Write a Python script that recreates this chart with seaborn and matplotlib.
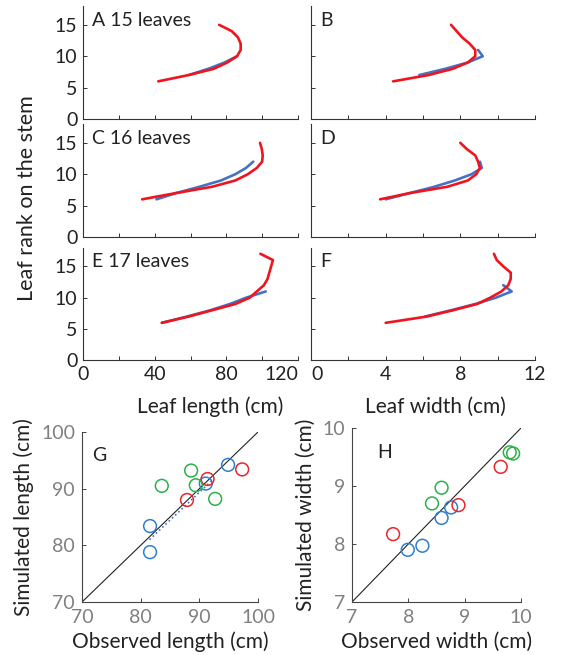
import numpy as np
import pandas as pd
import matplotlib
matplotlib.use("Agg")
import matplotlib.pyplot as plt
import seaborn as sns

sns.set_theme(style="ticks")
plt.rcParams["font.family"] = ["Lato", "DejaVu Sans"]

# ---- data: leaf profiles (x value per leaf rank) ----
# panel A / B : 15 leaves
len15_obs_rank = [7, 8, 9, 10]
len15_obs = [59, 70, 79, 86]
len15_sim_rank = [6, 7, 8, 9, 10, 11, 12, 13, 14, 15]
len15_sim = [42, 59, 73, 80.5, 86, 88, 88, 86.5, 83, 76]
wid15_obs_rank = [7, 8, 9, 10, 11]
wid15_obs = [5.8, 7.2, 8.4, 9.2, 8.95]
wid15_sim_rank = [6, 7, 8, 9, 10, 11, 12, 13, 14, 15]
wid15_sim = [4.4, 6.3, 7.6, 8.4, 8.8, 8.8, 8.5, 8.1, 7.8, 7.5]

# panel C / D : 16 leaves
len16_obs_rank = [6, 7, 8, 9, 10, 11, 12]
len16_obs = [41, 52, 65, 77, 85, 91, 95]
len16_sim_rank = [6, 7, 8, 9, 10, 11, 12, 13, 14, 15]
len16_sim = [33, 52, 72, 85, 92, 97, 100, 100.3, 99.8, 98.8]
wid16_obs_rank = [6, 7, 8, 9, 10, 11, 12]
wid16_obs = [4.0, 5.3, 6.6, 7.7, 8.6, 9.15, 9.05]
wid16_sim_rank = [6, 7, 8, 9, 10, 11, 12, 13, 14, 15]
wid16_sim = [3.7, 5.3, 7.3, 8.4, 8.85, 9.05, 8.95, 8.8, 8.35, 8.0]

# panel E / F : 17 leaves
len17_obs_rank = [6, 7, 8, 9, 10, 11]
len17_obs = [44, 58, 71, 82, 91, 102]
len17_sim_rank = [6, 7, 8, 9, 10, 11, 12, 13, 14, 15, 16, 17]
len17_sim = [44, 59, 72, 85, 93, 97, 101, 103, 104, 105, 106, 99]
wid17_obs_rank = [7, 8, 9, 10, 11, 12]
wid17_obs = [6.1, 7.5, 8.8, 9.9, 10.75, 10.3]
wid17_sim_rank = [6, 7, 8, 9, 10, 11, 12, 13, 14, 15, 16, 17]
wid17_sim = [4.0, 6.2, 7.6, 8.9, 9.6, 10.2, 10.57, 10.7, 10.7, 10.3, 9.95, 9.8]

# ---- data: observed vs simulated ----
groups = ["g1", "g1", "g1", "g1", "g2", "g2", "g2", "g3", "g3", "g3", "g3"]
obs_length = [81.6, 81.6, 91.1, 94.9, 87.9, 91.4, 97.3, 83.6, 88.6, 89.4, 92.7]
sim_length = [83.4, 78.8, 90.9, 94.2, 88.0, 91.7, 93.4, 90.5, 93.2, 90.6, 88.2]
obs_width = [7.99, 8.25, 8.59, 8.76, 7.73, 8.89, 9.64, 8.42, 8.59, 9.80, 9.86]
sim_width = [7.90, 7.97, 8.45, 8.63, 8.17, 8.67, 9.33, 8.70, 8.97, 9.58, 9.56]
trend_x = [81.5, 92.5]
trend_y = [81.0, 91.8]

BLUE = "#4472C4"
RED = "#F0141E"
scat_colors = {"g1": "#2F7FD0", "g2": "#E8262B", "g3": "#2DAF4A"}
TXT = "#222222"
GRAY = "#808080"
TICK_FS = 14
LAB_FS = 15

fig = plt.figure(figsize=(5.65, 6.55), dpi=100)
W, H = 565.0, 655.0


def box(x0, y_top, x1, y_bot):
    return [x0 / W, 1 - y_bot / H, (x1 - x0) / W, (y_bot - y_top) / H]


profiles = [
    (len15_obs_rank, len15_obs, len15_sim_rank, len15_sim, wid15_obs_rank, wid15_obs, wid15_sim_rank, wid15_sim, "A 15 leaves", "B"),
    (len16_obs_rank, len16_obs, len16_sim_rank, len16_sim, wid16_obs_rank, wid16_obs, wid16_sim_rank, wid16_sim, "C 16 leaves", "D"),
    (len17_obs_rank, len17_obs, len17_sim_rank, len17_sim, wid17_obs_rank, wid17_obs, wid17_sim_rank, wid17_sim, "E 17 leaves", "F"),
]
row_bottoms = [119, 237, 360.5]

for i, (lor, lo, lsr, ls, wor, wo, wsr, ws, lab_l, lab_r) in enumerate(profiles):
    yb = row_bottoms[i]
    yt = yb - 113
    axl = fig.add_axes(box(83, yt, 298, yb))
    axr = fig.add_axes(box(311, yt, 535, yb))
    for ax, ox, oy, sx, sy, xmax, step in [
        (axl, lo, lor, ls, lsr, 120, 20),
        (axr, wo, wor, ws, wsr, 12, 2),
    ]:
        sns.lineplot(x=ox, y=oy, sort=False, estimator=None, color=BLUE, lw=1.9, ax=ax)
        sns.lineplot(x=sx, y=sy, sort=False, estimator=None, color=RED, lw=1.9, ax=ax)
        ax.set_xlim(0, xmax)
        ax.set_ylim(0, 18)
        ax.set_xticks(np.arange(0, xmax + 0.01, step))
        ax.set_yticks([0, 5, 10, 15])
        ax.set_xlabel("")
        ax.set_ylabel("")
        sns.despine(ax=ax)
        ax.tick_params(direction="in", length=3, width=0.7, colors="#333333",
                       labelsize=TICK_FS, labelcolor=TXT, pad=4)
        for s in ["left", "bottom"]:
            ax.spines[s].set_linewidth(0.8)
            ax.spines[s].set_color("#333333")
        if i < 2:
            ax.set_xticklabels([])
        else:
            ax.set_xticklabels([str(int(v)) if v % (2 * step) == 0 else "" for v in ax.get_xticks()])
    if i == 2:
        axl.get_xticklabels()[-1].set_horizontalalignment("right")
        axr.get_xticklabels()[0].set_horizontalalignment("left")
    axr.set_yticklabels([])
    axl.text(0.04, 0.875, lab_l, transform=axl.transAxes, fontsize=14, color=TXT, va="center")
    axr.text(0.04, 0.875, lab_r, transform=axr.transAxes, fontsize=14, color=TXT, va="center")

fig.text(210 / W, 1 - 407 / H, "Leaf length (cm)", fontsize=LAB_FS, color=TXT, ha="center", va="center")
fig.text(435 / W, 1 - 407 / H, "Leaf width (cm)", fontsize=LAB_FS, color=TXT, ha="center", va="center")
fig.text(27 / W, 1 - 198 / H, "Leaf rank on the stem", fontsize=15.5, color=TXT, rotation=90,
         ha="center", va="center")

# ---- scatter panels ----
df = pd.DataFrame({"group": groups, "obs_length": obs_length, "sim_length": sim_length,
                   "obs_width": obs_width, "sim_width": sim_width})

axg = fig.add_axes(box(82, 432, 258, 602))
axh = fig.add_axes(box(352, 428, 521, 602))

for ax, xc, yc, lo, hi, letter, lx, xl, yl in [
    (axg, "obs_length", "sim_length", 70, 100, "G", 0.06, "Observed length (cm)", "Simulated length (cm)"),
    (axh, "obs_width", "sim_width", 7, 10, "H", 0.15, "Observed width (cm)", "Simulated width (cm)"),
]:
    ax.plot([lo, hi], [lo, hi], color="#222222", lw=0.8, zorder=1)
    for g in ["g1", "g2", "g3"]:
        sub = df[df["group"] == g]
        sns.scatterplot(data=sub, x=xc, y=yc, marker="o", s=85, facecolor="none",
                        edgecolor=scat_colors[g], linewidth=1.1, ax=ax, zorder=3)
    ax.set_xlim(lo, hi)
    ax.set_ylim(lo, hi)
    step = (hi - lo) / 3
    ax.set_xticks(np.arange(lo, hi + 0.01, step))
    ax.set_yticks(np.arange(lo, hi + 0.01, step))
    ax.set_xticklabels([f"{v:g}" for v in ax.get_xticks()])
    ax.set_yticklabels([f"{v:g}" for v in ax.get_yticks()])
    sns.despine(ax=ax)
    ax.tick_params(direction="in", length=3, width=0.7, colors="#444444",
                   labelsize=TICK_FS, labelcolor=GRAY, pad=5)
    for s in ["left", "bottom"]:
        ax.spines[s].set_linewidth(0.8)
        ax.spines[s].set_color("#444444")
    ax.set_xlabel(xl, fontsize=LAB_FS, color=TXT, labelpad=4)
    ax.set_ylabel(yl, fontsize=LAB_FS, color=TXT, labelpad=5)
    ax.text(lx, 0.86, letter, transform=ax.transAxes, fontsize=14, color=TXT, va="center")

sns.lineplot(x=trend_x, y=trend_y, color=BLUE, lw=1.2, linestyle=":", ax=axg, zorder=2)

fig.savefig("out.png", dpi=100, facecolor="white")
